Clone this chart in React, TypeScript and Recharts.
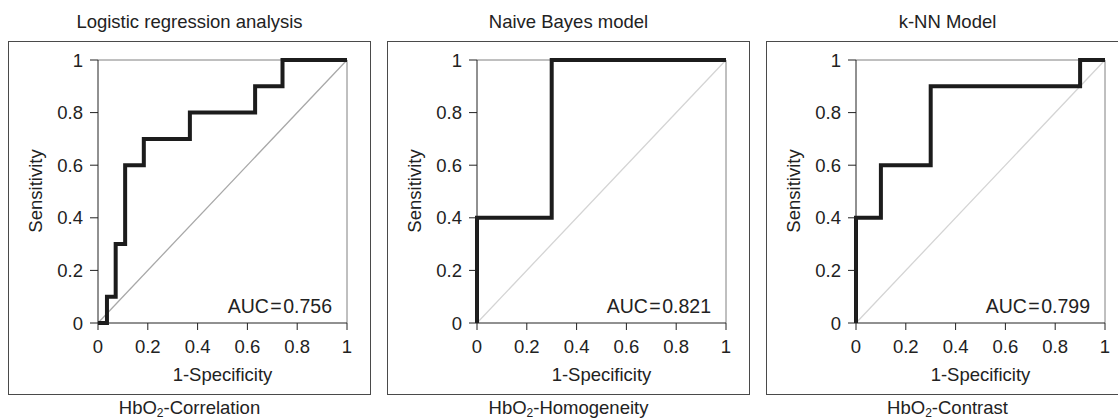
import { LineChart, Line, XAxis, YAxis, ReferenceLine } from 'recharts';

// axis ticks shared by all three ROC panels
const TICKS = [0, 0.2, 0.4, 0.6, 0.8, 1];
const DIAG_X = [0, 1];
const DIAG_Y = [0, 1];

// ROC corner points (1-specificity, sensitivity), drawn as steps
const LOGIT_FPR = [0, 0.036, 0.071, 0.109, 0.184, 0.369, 0.631, 0.741, 1];
const LOGIT_TPR = [0, 0.1, 0.3, 0.6, 0.7, 0.8, 0.9, 1, 1];
const BAYES_FPR = [0, 0, 0.3, 1];
const BAYES_TPR = [0, 0.4, 1, 1];
const KNN_FPR = [0, 0, 0.1, 0.3, 0.9, 1];
const KNN_TPR = [0, 0.4, 0.6, 0.9, 1, 1];

const TITLES = ['Logistic regression analysis', 'Naive Bayes model', 'k-NN Model'];
const FEATURES = ['Correlation', 'Homogeneity', 'Contrast'];
const AUCS = ['0.756', '0.821', '0.799'];
const BOX_LEFT = [8, 387, 766];
const DIAG_COLORS = ['#a8a8a8', '#d4d4d4', '#d4d4d4'];

const toPoints = (xs: number[], ys: number[]) => xs.map((x, i) => ({ x, y: ys[i] }));

const ROCS = [
  toPoints(LOGIT_FPR, LOGIT_TPR),
  toPoints(BAYES_FPR, BAYES_TPR),
  toPoints(KNN_FPR, KNN_TPR),
];
const DIAG = toPoints(DIAG_X, DIAG_Y);

const FONT = '"Liberation Sans", Arial, sans-serif';
const TEXT = '#222';
const FS = 18.5;

const BOX_TOP = 41;
const BOX_W = 363;
const BOX_H = 354;
// plot area sits at x 90..339 px from box left, y 19..282 px from box top
const Y_AXIS_W = 40;
const X_AXIS_H = 30;
const MARGIN = { top: 19, left: 90 - Y_AXIS_W, right: 24, bottom: 72 - X_AXIS_H };

interface PanelProps {
  idx: number;
}

const Panel = ({ idx }: PanelProps) => {
  const L = BOX_LEFT[idx];
  const plotW = BOX_W - 90 - MARGIN.right;
  const plotCx = L + 90 + plotW / 2;
  const boxCx = L + BOX_W / 2;

  return (
    <>
      <div
        style={{
          position: 'absolute', left: boxCx - 200, width: 400, top: 11, height: 22,
          lineHeight: '22px', textAlign: 'center', fontSize: FS, color: TEXT,
        }}
      >
        {TITLES[idx]}
      </div>
      <div
        style={{
          position: 'absolute', left: L, top: BOX_TOP, width: BOX_W, height: BOX_H,
          boxSizing: 'border-box', border: '1px solid #4a4a4a',
        }}
      />
      <div style={{ position: 'absolute', left: L, top: BOX_TOP }}>
        <LineChart width={BOX_W} height={BOX_H} margin={MARGIN}>
          <XAxis
            dataKey="x"
            type="number"
            domain={[0, 1]}
            ticks={TICKS}
            interval={0}
            height={X_AXIS_H}
            tickSize={7}
            tickMargin={10}
            axisLine={{ stroke: '#222' }}
            tickLine={{ stroke: '#222' }}
            tick={{ fill: TEXT, fontSize: FS, fontFamily: FONT }}
            tickFormatter={(v: number) => String(v)}
          />
          <YAxis
            type="number"
            domain={[0, 1]}
            ticks={TICKS}
            interval={0}
            width={Y_AXIS_W}
            tickSize={8}
            tickMargin={7}
            axisLine={{ stroke: '#222' }}
            tickLine={{ stroke: '#222' }}
            tick={{ fill: TEXT, fontSize: FS, fontFamily: FONT }}
            tickFormatter={(v: number) => String(v)}
          />
          <ReferenceLine y={1} stroke="#808080" />
          <ReferenceLine x={1} stroke="#808080" />
          <Line
            data={DIAG}
            dataKey="y"
            type="linear"
            stroke={DIAG_COLORS[idx]}
            strokeWidth={1.3}
            dot={false}
            activeDot={false}
            isAnimationActive={false}
          />
          <Line
            data={ROCS[idx]}
            dataKey="y"
            type="stepAfter"
            stroke="#1c1c1c"
            strokeWidth={4}
            strokeLinejoin="miter"
            dot={false}
            activeDot={false}
            isAnimationActive={false}
          />
        </LineChart>
      </div>
      <div
        style={{
          position: 'absolute', left: L + 28 - 100, top: 191 - 11, width: 200, height: 22,
          lineHeight: '22px', textAlign: 'center', fontSize: FS, color: TEXT,
          transform: 'rotate(-90deg)',
        }}
      >
        Sensitivity
      </div>
      <div
        style={{
          position: 'absolute', left: plotCx - 100, top: 364, width: 200, height: 22,
          lineHeight: '22px', textAlign: 'center', fontSize: FS, color: TEXT,
        }}
      >
        1-Specificity
      </div>
      <div
        style={{
          position: 'absolute', left: L + 324 - 240, width: 240, top: 295, height: 22,
          lineHeight: '22px', textAlign: 'right', fontSize: 19.5, color: TEXT,
        }}
      >
        AUC<span style={{ margin: '0 1.5px' }}>=</span>{AUCS[idx]}
      </div>
      <div
        style={{
          position: 'absolute', left: boxCx - 150, width: 300, top: 398, height: 20,
          lineHeight: '20px', textAlign: 'center', fontSize: FS, color: TEXT,
        }}
      >
        HbO<sub style={{ fontSize: '0.65em', lineHeight: 0, verticalAlign: '-0.25em' }}>2</sub>-{FEATURES[idx]}
      </div>
    </>
  );
};

export default function App() {
  return (
    <div
      style={{
        position: 'absolute', left: 0, top: 0, width: 1118, height: 420,
        overflow: 'hidden', background: '#fff', fontFamily: FONT,
      }}
    >
      {[0, 1, 2].map((i) => (
        <Panel key={i} idx={i} />
      ))}
    </div>
  );
}
